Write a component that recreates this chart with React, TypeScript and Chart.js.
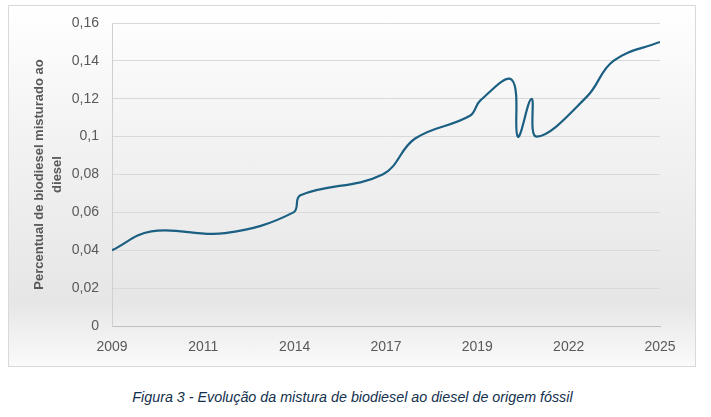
import React, { useEffect, useRef } from "react";
import { Chart, registerables } from "chart.js";

Chart.register(...registerables);

const years = [2009, 2010.15, 2012.3, 2014.3, 2014.5, 2016.9, 2017.85, 2019.45, 2019.75, 2020.67, 2020.85, 2021.25, 2021.4, 2022.86, 2023.64, 2025];
const blendShare = [0.04, 0.05, 0.049, 0.06, 0.069, 0.08, 0.099, 0.111, 0.119, 0.13, 0.10, 0.12, 0.10, 0.121, 0.14, 0.15];
const xTickLabels = ["2009", "2011", "2014", "2017", "2019", "2022", "2025"];
const yTickLabels = ["0", "0,02", "0,04", "0,06", "0,08", "0,1", "0,12", "0,14", "0,16"];
const yTitle = ["Percentual de biodiesel misturado ao", "diesel"];
const caption = "Figura 3 - Evolução da mistura de biodiesel ao diesel de origem fóssil";

const FONT = "'Liberation Sans', Arial, sans-serif";

export default function App() {
  const ref = useRef<HTMLCanvasElement | null>(null);

  useEffect(() => {
    if (!ref.current) return;
    const xMin = 2009;
    const xMax = 2025;
    const chart = new Chart(ref.current, {
      type: "line",
      data: {
        datasets: [
          {
            data: years.map((x, i) => ({ x, y: blendShare[i] })),
            borderColor: "#1b5f82",
            borderWidth: 2.2,
            pointRadius: 0,
            tension: 0.4,
            fill: false,
          },
        ],
      },
      options: {
        animation: false,
        responsive: false,
        devicePixelRatio: 1,
        layout: { padding: { left: 21, top: 17, right: 35, bottom: 0 } },
        plugins: { legend: { display: false }, tooltip: { enabled: false } },
        scales: {
          x: {
            type: "linear",
            min: xMin,
            max: xMax,
            afterBuildTicks: (scale: any) => {
              const step = (xMax - xMin) / (xTickLabels.length - 1);
              scale.ticks = xTickLabels.map((_, i) => ({ value: xMin + i * step }));
            },
            afterFit: (scale: any) => {
              scale.height = 40;
            },
            grid: { display: false, drawTicks: false },
            border: { display: true, color: "#bfbfbf", width: 1 },
            ticks: {
              autoSkip: false,
              maxRotation: 0,
              padding: 13,
              color: "#595959",
              font: { family: FONT, size: 14 },
              callback: (_v: any, i: number) => xTickLabels[i],
            },
          },
          y: {
            min: 0,
            max: 0.16,
            afterBuildTicks: (scale: any) => {
              scale.ticks = yTickLabels.map((_, i) => ({ value: i * 0.02 }));
            },
            afterFit: (scale: any) => {
              scale.width = 82;
              scale.paddingTop = 0;
              scale.paddingBottom = 0;
            },
            grid: { color: "#d9d9d9", lineWidth: 1, drawTicks: false },
            border: { display: true, color: "#d0d0d0", width: 1 },
            ticks: {
              padding: 13,
              color: "#595959",
              font: { family: FONT, size: 14 },
              callback: (_v: any, i: number) => yTickLabels[i],
            },
            title: {
              display: true,
              text: yTitle,
              color: "#595959",
              font: { family: FONT, size: 13, weight: "bold", lineHeight: 1.4 },
              padding: { top: 0, bottom: 0 },
            },
          },
        },
      },
    });
    return () => chart.destroy();
  }, []);

  return (
    <div style={{ position: "absolute", left: 0, top: 0, width: 711, height: 417, background: "#ffffff" }}>
      <div
        style={{
          position: "absolute",
          left: 8,
          top: 5,
          width: 686,
          height: 360,
          border: "1px solid #d9d9d9",
          background: "linear-gradient(to bottom, #ffffff 0%, #f3f3f3 35%, #e6e6e6 82%, #fafafa 100%)",
        }}
      >
        <canvas ref={ref} width={686} height={360} style={{ display: "block" }} />
      </div>
      <div
        style={{
          position: "absolute",
          left: 0,
          width: 705,
          top: 389,
          textAlign: "center",
          fontFamily: FONT,
          fontStyle: "italic",
          fontSize: 14.3,
          color: "#13304d",
          whiteSpace: "nowrap",
        }}
      >
        {caption}
      </div>
    </div>
  );
}
